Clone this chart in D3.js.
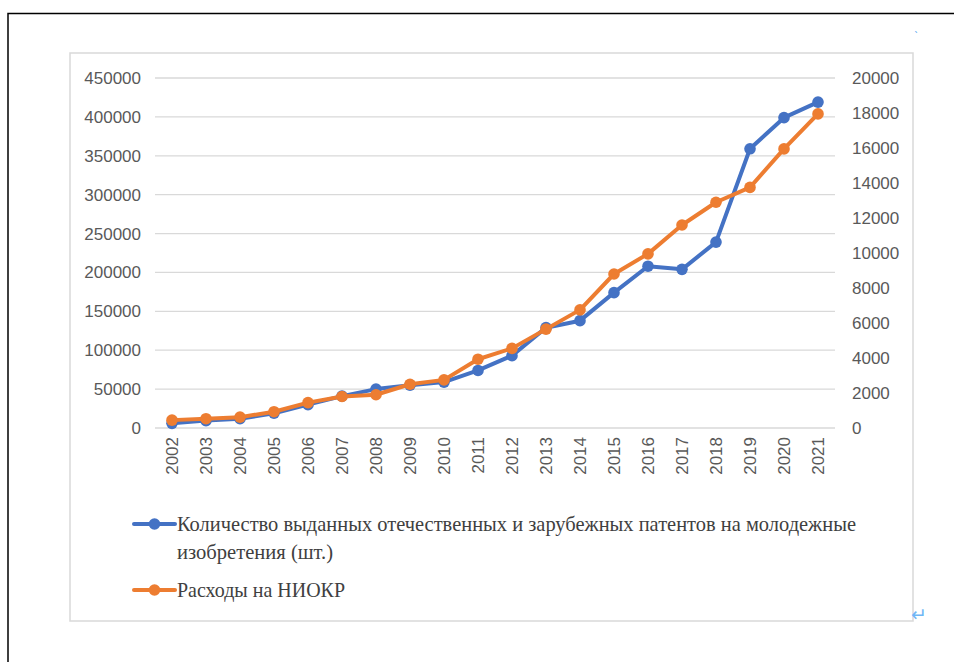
<!DOCTYPE html>
<html>
<head>
<meta charset="utf-8">
<script src="https://cdn.jsdelivr.net/npm/d3@7"></script>
<style>
  html, body { margin: 0; padding: 0; background: #fff; }
  svg { display: block; }
</style>
</head>
<body>
<script>
// data
const years = ['2002','2003','2004','2005','2006','2007','2008','2009','2010','2011',
               '2012','2013','2014','2015','2016','2017','2018','2019','2020','2021'];
const patents = [6000, 9500, 12000, 19000, 30000, 41000, 50000, 55000, 59000, 74000,
                 93000, 129000, 138000, 174000, 208000, 204000, 239000, 359000, 399000, 419000];
const rdSpend = [450, 530, 620, 930, 1450, 1800, 1900, 2500, 2750, 3930,
                 4550, 5650, 6750, 8800, 9950, 11600, 12900, 13750, 15950, 17950];
const leftTicks = [0, 50000, 100000, 150000, 200000, 250000, 300000, 350000, 400000, 450000];
const rightTicks = [0, 2000, 4000, 6000, 8000, 10000, 12000, 14000, 16000, 18000, 20000];
const legendLines = [
  ['Количество выданных отечественных и зарубежных патентов на молодежные', 'изобретения (шт.)'],
  ['Расходы на НИОКР']
];
// rendered widths of the legend lines in the picture (text is squeezed a bit)
const legendWidths = [[679, 156], [168]];

const W = 954, H = 662;
const blue = '#4472c4', orange = '#ed7d31';
const tickColor = '#595959';
const tickFont = 'Liberation Sans, Arial, sans-serif';

const svg = d3.select('body').append('svg')
  .attr('width', W).attr('height', H);

// page border (document edge)
svg.append('path')
  .attr('d', `M8,${H} L8,13.5 L${W},13.5`)
  .attr('fill', 'none').attr('stroke', '#000').attr('stroke-width', 1.5);

// chart frame
svg.append('rect')
  .attr('x', 70).attr('y', 53).attr('width', 843).attr('height', 568)
  .attr('fill', '#fff').attr('stroke', '#d9d9d9').attr('stroke-width', 1.5);

// word-processor marks
svg.append('text').attr('x', 914).attr('y', 40)
  .attr('font-family', 'DejaVu Sans').attr('font-size', 10).attr('fill', '#4aa3f0')
  .text('`');
svg.append('text').attr('x', 911).attr('y', 621)
  .attr('font-family', 'DejaVu Sans').attr('font-size', 19).attr('fill', '#6fb6f5')
  .text('↵');

// scales
const plot = { left: 155, right: 835, top: 78, bottom: 428 };
const x = d3.scaleBand().domain(years).range([plot.left, plot.right]);
const yL = d3.scaleLinear().domain([0, 450000]).range([plot.bottom, plot.top]);
const yR = d3.scaleLinear().domain([0, 20000]).range([plot.bottom, plot.top]);
const cx = d => x(d) + x.bandwidth() / 2;

// gridlines
svg.append('g').selectAll('line')
  .data(leftTicks).join('line')
  .attr('x1', plot.left).attr('x2', plot.right)
  .attr('y1', d => yL(d)).attr('y2', d => yL(d))
  .attr('stroke', '#d9d9d9').attr('stroke-width', 1.3);

// left axis
const axL = svg.append('g')
  .attr('transform', `translate(${plot.left - 14},0)`)
  .call(d3.axisLeft(yL).tickValues(leftTicks).tickSize(0).tickPadding(0).tickFormat(d3.format('d')));
axL.select('.domain').remove();
axL.selectAll('text')
  .attr('font-family', tickFont).attr('font-size', 17).attr('fill', tickColor);

// right axis
const axR = svg.append('g')
  .attr('transform', `translate(${plot.right + 17},0)`)
  .call(d3.axisRight(yR).tickValues(rightTicks).tickSize(0).tickPadding(0).tickFormat(d3.format('d')));
axR.select('.domain').remove();
axR.selectAll('text')
  .attr('font-family', tickFont).attr('font-size', 17).attr('fill', tickColor);

// x axis, rotated year labels
const axX = svg.append('g')
  .attr('transform', `translate(0,${plot.bottom})`)
  .call(d3.axisBottom(x).tickSize(0).tickPadding(0));
axX.select('.domain').remove();
axX.selectAll('text')
  .attr('font-family', tickFont).attr('font-size', 17).attr('fill', tickColor)
  .attr('text-anchor', 'end')
  .attr('dy', '0.35em')
  .attr('transform', 'translate(0,9) rotate(-90)');

// series
const series = [
  { values: patents, y: yL, color: blue },
  { values: rdSpend, y: yR, color: orange }
];
series.forEach(s => {
  const line = d3.line().x((d, i) => cx(years[i])).y(d => s.y(d));
  const g = svg.append('g');
  g.append('path')
    .attr('d', line(s.values))
    .attr('fill', 'none').attr('stroke', s.color)
    .attr('stroke-width', 4).attr('stroke-linejoin', 'round').attr('stroke-linecap', 'round');
  g.selectAll('circle').data(s.values).join('circle')
    .attr('cx', (d, i) => cx(years[i])).attr('cy', d => s.y(d))
    .attr('r', 5.8).attr('fill', s.color);
});

// legend
const legendY = [524, 590];
legendLines.forEach((lines, k) => {
  const g = svg.append('g').attr('transform', `translate(0,${legendY[k]})`);
  g.append('line').attr('x1', 134).attr('x2', 175).attr('y1', 0).attr('y2', 0)
    .attr('stroke', series[k].color).attr('stroke-width', 4).attr('stroke-linecap', 'round');
  g.append('circle').attr('cx', 154.5).attr('cy', 0).attr('r', 5.8).attr('fill', series[k].color);
  lines.forEach((t, j) => {
    g.append('text')
      .attr('x', 177).attr('y', j * 28 + 7)
      .attr('font-family', 'Liberation Serif, Times New Roman, serif')
      .attr('font-size', 21).attr('fill', '#404040')
      .attr('textLength', legendWidths[k][j]).attr('lengthAdjust', 'spacingAndGlyphs')
      .text(t);
  });
});
</script>
</body>
</html>
